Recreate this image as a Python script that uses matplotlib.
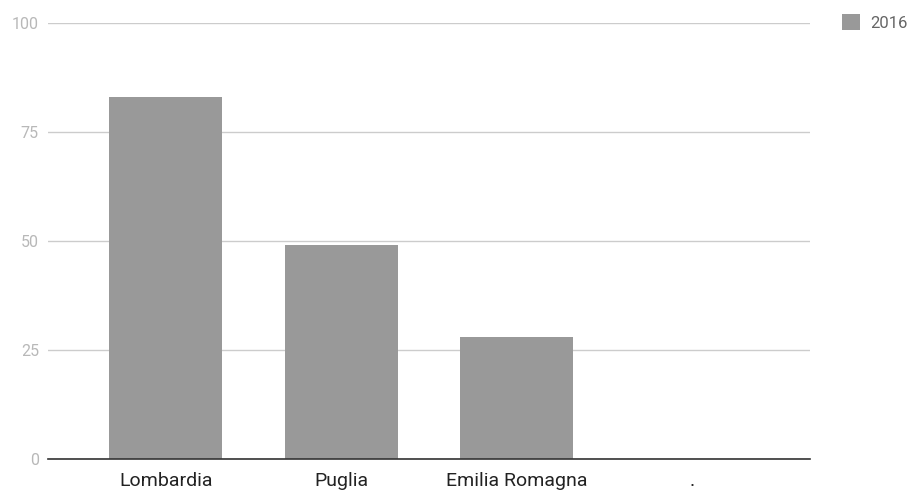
import matplotlib

matplotlib.use("Agg")
import matplotlib.pyplot as plt
from matplotlib.patches import Patch

plt.rcParams["font.family"] = ["Roboto", "DejaVu Sans"]

regions = ["Lombardia", "Puglia", "Emilia Romagna", "."]
values_2016 = [83, 49, 28, 0]
y_ticks = [0, 25, 50, 75, 100]
series_name = "2016"

BAR = "#999999"

fig = plt.figure(figsize=(9.14, 4.9), dpi=100)
ax = fig.add_axes([48 / 914, 31 / 490, 762 / 914, 436 / 490])

x = range(len(regions))
ax.bar(x, values_2016, width=0.644, color=BAR, zorder=3)

ax.set_xlim(-0.672, len(regions) - 1 + 0.672)
ax.set_ylim(0, 100)
ax.set_yticks(y_ticks)
ax.set_xticks(list(x))
ax.set_xticklabels(regions, fontsize=14, color="#222222")
ax.tick_params(axis="x", length=0, pad=9)
ax.tick_params(axis="y", length=0, pad=6.5, labelsize=11.5, labelcolor="#b8b8b8")

ax.grid(axis="y", color="#cccccc", linewidth=1, zorder=0)
for side in ["top", "right", "left"]:
    ax.spines[side].set_visible(False)
ax.spines["bottom"].set_color("#333333")
ax.spines["bottom"].set_linewidth(1.2)
ax.spines["bottom"].set_zorder(4)

handle = Patch(facecolor=BAR, edgecolor="none")
fig.legend(
    [handle],
    [series_name],
    loc="upper left",
    bbox_to_anchor=(842 / 914, 1 - 14 / 490),
    frameon=False,
    fontsize=12,
    labelcolor="#666666",
    handlelength=1.1,
    handleheight=1.1,
    handletextpad=0.6,
    borderpad=0,
    borderaxespad=0,
)

fig.savefig("out.png", dpi=100)
